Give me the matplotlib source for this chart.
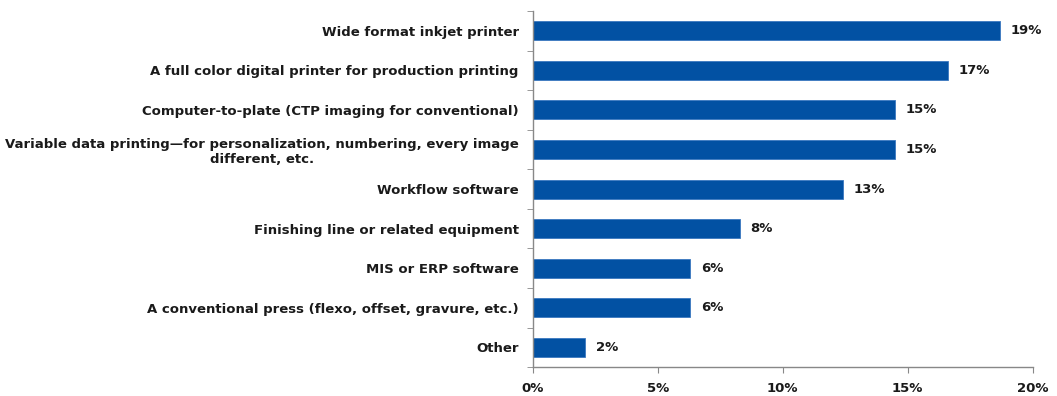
import numpy as np
import matplotlib
matplotlib.use("Agg")
import matplotlib.pyplot as plt
from matplotlib.ticker import FixedLocator, PercentFormatter

categories = [
    "Wide format inkjet printer",
    "A full color digital printer for production printing",
    "Computer-to-plate (CTP imaging for conventional)",
    "Variable data printing\u2014for personalization, numbering, every image\ndifferent, etc.",
    "Workflow software",
    "Finishing line or related equipment",
    "MIS or ERP software",
    "A conventional press (flexo, offset, gravure, etc.)",
    "Other",
]
values = [18.7, 16.6, 14.5, 14.5, 12.4, 8.3, 6.3, 6.3, 2.1]
value_labels = ["19%", "17%", "15%", "15%", "13%", "8%", "6%", "6%", "2%"]
x_ticks = [0, 5, 10, 15, 20]

plt.rcParams["font.family"] = ["DejaVu Sans"]
plt.rcParams["font.weight"] = "bold"

fig = plt.figure(figsize=(10.57, 3.96), dpi=100)
ax = fig.add_axes([0.504, 0.073, 0.473, 0.899])

y = np.arange(len(categories))
ax.barh(y, values, height=0.48, color="#0251A3", edgecolor="#3a78c0", linewidth=0.6)

for yi, v, lab in zip(y, values, value_labels):
    ax.text(v + 0.42, yi, lab, va="center", ha="left",
            fontsize=9.5, fontweight="bold", color="#1a1a1a")

ax.set_xlim(0, 20)
ax.set_ylim(len(categories) - 0.5, -0.5)
ax.set_xticks(x_ticks)
ax.xaxis.set_major_formatter(PercentFormatter(decimals=0))
ax.set_yticks(y)
ax.set_yticklabels(categories, fontsize=9.5, fontweight="bold", color="#1a1a1a",
                   multialignment="center")
ax.yaxis.set_minor_locator(FixedLocator(np.arange(-0.5, len(categories), 1)))
ax.tick_params(axis="y", which="major", length=0, pad=10)
ax.tick_params(axis="y", which="minor", length=4, color="#888888")
ax.tick_params(axis="x", length=4, color="#888888", pad=7, labelsize=9.5,
               labelcolor="#1a1a1a")
for lbl in ax.get_xticklabels():
    lbl.set_fontweight("bold")

for side in ["top", "right"]:
    ax.spines[side].set_visible(False)
for side in ["left", "bottom"]:
    ax.spines[side].set_color("#888888")
    ax.spines[side].set_linewidth(1)

fig.savefig("out.png", dpi=100)
